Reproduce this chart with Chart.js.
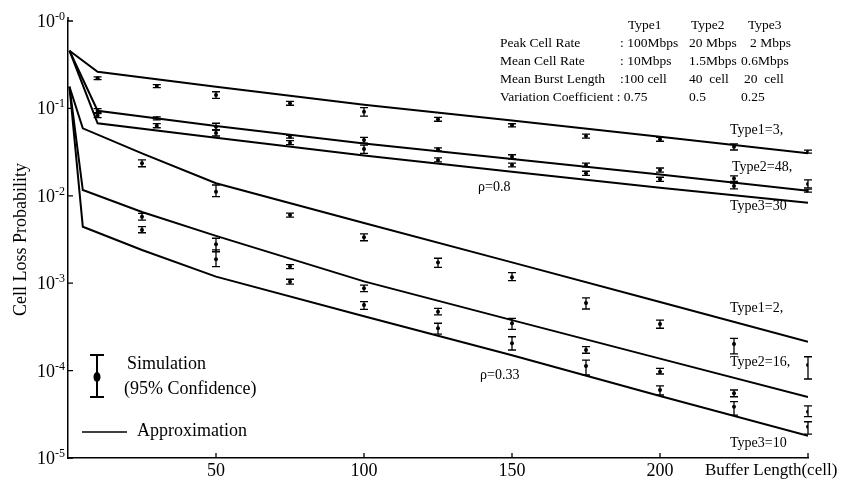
<!DOCTYPE html>
<html><head><meta charset="utf-8">
<script src="https://cdn.jsdelivr.net/npm/chart.js@4"></script>
<style>html,body{margin:0;padding:0;background:#fff;}</style>
</head><body>
<canvas id="c" width="843" height="484"></canvas>
<script>
// ---------------- DATA ----------------
const xTickValues = [50, 100, 150, 200, 250];
const xTickLabels = ['50', '100', '150', '200', ''];
const yTickValues = [1e-5, 1e-4, 1e-3, 1e-2, 1e-1, 1];
const yTickExponents = ['-5', '-4', '-3', '-2', '-1', '-0'];

// Approximation curves (rho = 0.8)
const approx08X = [0.5, 10, 50, 100, 150, 200, 250];
const approxT1_08 = [0.457, 0.263, 0.177, 0.110, 0.0728, 0.0475, 0.0306];
const approxT2_08 = [0.457, 0.094, 0.063, 0.0397, 0.0264, 0.0175, 0.0114];
const approxT3_08 = [0.457, 0.0675, 0.0461, 0.0289, 0.0188, 0.01236, 0.00834];

// Approximation curves (rho = 0.33)
const approx033X = [0.5, 5, 25, 50, 100, 150, 200, 250];
const approxT1_033 = [0.177, 0.0592, 0.0306, 0.0139, 0.00489, 0.00173, 0.00061, 0.000214];
const approxT2_033 = [0.177, 0.01165, 0.00652, 0.00348, 0.00105, 0.000378, 0.000137, 0.000050];
const approxT3_033 = [0.177, 0.00443, 0.0024, 0.00119, 0.000419, 0.000150, 0.0000513, 0.0000180];

// Simulation (95% confidence), rho = 0.8
const sim08X = [10, 30, 50, 75, 100, 125, 150, 175, 200, 225, 250];
const simT1_08 = [0.221, 0.180, 0.142, 0.1143, 0.0917, 0.0750, 0.0641, 0.0483, 0.0443, 0.0365, 0.0320];
const simT1_08Lo = [0.213, 0.173, 0.1305, 0.1086, 0.0818, 0.0713, 0.0615, 0.0458, 0.0421, 0.0334, 0.0307];
const simT1_08Hi = [0.230, 0.1875, 0.155, 0.1205, 0.1019, 0.0791, 0.0667, 0.0509, 0.0467, 0.0392, 0.0333];
const simT2_08 = [0.0942, 0.0771, 0.0618, 0.0474, 0.0435, 0.0340, 0.0280, 0.0225, 0.0197, 0.0158, 0.01365];
const simT2_08Lo = [0.0893, 0.0741, 0.0566, 0.0456, 0.0399, 0.0327, 0.0265, 0.0214, 0.0187, 0.0146, 0.0123];
const simT2_08Hi = [0.0993, 0.0802, 0.0676, 0.0493, 0.0467, 0.0354, 0.0295, 0.0237, 0.0208, 0.0169, 0.0152];
const simT3_08 = [0.0825, 0.0634, 0.0523, 0.0405, 0.0343, 0.0257, 0.0225, 0.0181, 0.01545, 0.01294, 0.01143];
const simT3_08Lo = [0.0783, 0.0601, 0.0483, 0.0385, 0.0306, 0.0244, 0.0214, 0.0171, 0.01466, 0.01197, 0.0110];
const simT3_08Hi = [0.0871, 0.0668, 0.0566, 0.0428, 0.0381, 0.0271, 0.0237, 0.0191, 0.0163, 0.0140, 0.0119];

// Simulation (95% confidence), rho = 0.33
const sim033X = [25, 50, 75, 100, 125, 150, 175, 200, 225, 250];
const simT1_033 = [0.0235, 0.01114, 0.00603, 0.00335, 0.00172, 0.00117, 0.000593, 0.000341, 0.000201, 0.000116];
const simT1_033Lo = [0.0215, 0.00977, 0.00571, 0.00306, 0.00152, 0.00107, 0.000507, 0.000305, 0.000155, 0.0000802];
const simT1_033Hi = [0.0257, 0.0133, 0.00635, 0.00366, 0.00193, 0.00132, 0.000678, 0.000379, 0.000234, 0.000144];
const simT2_033 = [0.00577, 0.00279, 0.00155, 0.000875, 0.000472, 0.000348, 0.000172, 0.0000971, 0.0000550, 0.0000339];
const simT2_033Lo = [0.00528, 0.00229, 0.00147, 0.000800, 0.000433, 0.000297, 0.000158, 0.0000914, 0.0000502, 0.0000297];
const simT2_033Hi = [0.00631, 0.00327, 0.00163, 0.000953, 0.000516, 0.000396, 0.000188, 0.000106, 0.0000600, 0.0000394];
const simT3_033 = [0.00406, 0.00188, 0.00104, 0.000563, 0.000305, 0.000205, 0.000113, 0.0000600, 0.0000386, 0.0000228];
const simT3_033Lo = [0.00378, 0.00155, 0.000975, 0.000502, 0.000262, 0.000172, 0.0000891, 0.0000526, 0.0000310, 0.0000188];
const simT3_033Hi = [0.00443, 0.00240, 0.00111, 0.000614, 0.000348, 0.000244, 0.000132, 0.0000667, 0.0000441, 0.0000260];

// Texts
const tableHeader = ['Type1', 'Type2', 'Type3'];
const tableRows = [
  ['Peak Cell Rate', ': 100Mbps', '20 Mbps', '2 Mbps'],
  ['Mean Cell Rate', ': 10Mbps', '1.5Mbps', '0.6Mbps'],
  ['Mean Burst Length', ':100 cell', '40  cell', '20  cell'],
  ['Variation Coefficient : 0.75', '', '0.5', '0.25']
];
const curveLabels = ['Type1=3,', 'Type2=48,', 'Type3=30', '\u03c1=0.8', 'Type1=2,', 'Type2=16,', 'Type3=10', '\u03c1=0.33'];
const legendTexts = ['Simulation', '(95% Confidence)', 'Approximation'];
const xAxisTitle = 'Buffer Length(cell)';
const yAxisTitle = 'Cell Loss Probability';

// ---------------- CHART ----------------
const FONT = '"Liberation Serif", "Times New Roman", serif';
const pts = (xs, ys) => xs.map((x, i) => ({x: x, y: ys[i]}));
const lineDs = (xs, ys) => ({type: 'line', data: pts(xs, ys), borderColor: '#000', borderWidth: 2, pointRadius: 0, tension: 0, fill: false});
const simDs = (xs, ys, lo, hi) => ({type: 'scatter', data: pts(xs, ys), lo: lo, hi: hi, xs: xs, showLine: false, pointRadius: 2, pointBackgroundColor: '#000', pointBorderColor: '#000', pointBorderWidth: 0});

const sims = [
  simDs(sim08X, simT1_08, simT1_08Lo, simT1_08Hi),
  simDs(sim08X, simT2_08, simT2_08Lo, simT2_08Hi),
  simDs(sim08X, simT3_08, simT3_08Lo, simT3_08Hi),
  simDs(sim033X, simT1_033, simT1_033Lo, simT1_033Hi),
  simDs(sim033X, simT2_033, simT2_033Lo, simT2_033Hi),
  simDs(sim033X, simT3_033, simT3_033Lo, simT3_033Hi)
];

const decor = {
  id: 'decor',
  beforeDraw(chart) {
    const c = chart.ctx;
    c.save(); c.fillStyle = '#fff'; c.fillRect(0, 0, chart.width, chart.height); c.restore();
  },
  afterDatasetsDraw(chart) {
    const c = chart.ctx, xs = chart.scales.x, ys = chart.scales.y;
    c.save();
    c.strokeStyle = '#000'; c.lineWidth = 1.3;
    chart.data.datasets.forEach(ds => {
      if (!ds.lo) return;
      ds.xs.forEach((xv, i) => {
        const px = xs.getPixelForValue(xv);
        const pl = ys.getPixelForValue(ds.lo[i]);
        const ph = ys.getPixelForValue(ds.hi[i]);
        c.beginPath();
        c.moveTo(px, pl); c.lineTo(px, ph);
        c.moveTo(px - 4, pl); c.lineTo(px + 4, pl);
        c.moveTo(px - 4, ph); c.lineTo(px + 4, ph);
        c.stroke();
      });
    });
    c.restore();
  },
  afterDraw(chart) {
    const c = chart.ctx, xs = chart.scales.x, ys = chart.scales.y, a = chart.chartArea;
    c.save();
    c.fillStyle = '#000'; c.strokeStyle = '#000';
    // axis line extends slightly above the top decade
    c.lineWidth = 1.5;
    c.beginPath(); c.moveTo(a.left, a.top); c.lineTo(a.left, a.top - 4); c.stroke();
    // inward tick marks
    c.lineWidth = 1.3;
    c.beginPath();
    yTickValues.forEach(v => { const py = ys.getPixelForValue(v); c.moveTo(a.left, py); c.lineTo(a.left + 5, py); });
    xTickValues.forEach(v => { const px = xs.getPixelForValue(v); c.moveTo(px, a.bottom); c.lineTo(px, a.bottom - 5); });
    c.stroke();
    // y tick labels with superscript exponents
    c.textBaseline = 'alphabetic';
    yTickValues.forEach((v, i) => {
      const py = ys.getPixelForValue(v);
      c.font = '12px ' + FONT;
      c.textAlign = 'right';
      const ew = c.measureText(yTickExponents[i]).width;
      c.fillText(yTickExponents[i], 65, py - 1);
      c.font = '18px ' + FONT;
      c.fillText('10', 65 - ew, py + 6);
    });
    // x axis title
    c.font = '17px ' + FONT; c.textAlign = 'left'; c.textBaseline = 'middle';
    c.fillText(xAxisTitle, 705, 471);
    // table
    c.font = '13.5px ' + FONT;
    const colX = [500, 620, 689, 741];
    const rowY = [25, 43, 61, 79, 97];
    const headX = [628, 691, 748];
    tableHeader.forEach((t, i) => c.fillText(t, headX[i], rowY[0]));
    tableRows.forEach((r, ri) => r.forEach((t, ci) => {
      if (!t) return;
      let x = colX[ci];
      if (ri === 0 && ci === 3) x += 9;
      if (ri === 2 && ci === 3) x += 3;
      c.fillText(t, x, rowY[ri + 1]);
    }));
    // curve labels
    c.font = '14px ' + FONT;
    const lp = [[730, 130], [732, 167], [730, 206], [478, 187], [730, 308], [730, 362], [730, 443], [480, 375]];
    curveLabels.forEach((t, i) => c.fillText(t, lp[i][0], lp[i][1]));
    // legend
    c.lineWidth = 2;
    c.beginPath();
    c.moveTo(97, 355); c.lineTo(97, 397);
    c.moveTo(90, 355); c.lineTo(104, 355);
    c.moveTo(90, 397); c.lineTo(104, 397);
    c.stroke();
    c.beginPath(); c.ellipse(97, 377, 3.5, 5, 0, 0, Math.PI * 2); c.fill();
    c.lineWidth = 1.5;
    c.beginPath(); c.moveTo(82, 432); c.lineTo(127, 432); c.stroke();
    c.font = '18px ' + FONT;
    c.fillText(legendTexts[0], 127, 364);
    c.fillText(legendTexts[1], 124, 389);
    c.fillText(legendTexts[2], 137, 431);
    c.restore();
  }
};

new Chart(document.getElementById('c'), {
  type: 'line',
  data: {datasets: [
    lineDs(approx08X, approxT1_08), lineDs(approx08X, approxT2_08), lineDs(approx08X, approxT3_08),
    lineDs(approx033X, approxT1_033), lineDs(approx033X, approxT2_033), lineDs(approx033X, approxT3_033),
    ...sims
  ]},
  options: {
    responsive: false, animation: false, events: [],
    layout: {padding: {top: 21, right: 35, left: 0, bottom: 0}},
    plugins: {legend: {display: false}, tooltip: {enabled: false}},
    scales: {
      x: {
        type: 'linear', min: 0, max: 250,
        afterBuildTicks: s => { s.ticks = xTickValues.map(v => ({value: v})); },
        ticks: {callback: (v, i) => xTickLabels[i], font: {family: FONT, size: 18}, color: '#000', padding: 2, maxRotation: 0, autoSkip: false},
        grid: {display: true, drawOnChartArea: false, drawTicks: false},
        border: {display: true, color: '#000', width: 1.5},
        afterFit: s => { s.height = 26; }
      },
      y: {
        type: 'logarithmic', min: 1e-5, max: 1,
        afterBuildTicks: s => { s.ticks = yTickValues.map(v => ({value: v})); },
        ticks: {display: false},
        grid: {display: true, drawOnChartArea: false, drawTicks: false},
        border: {display: true, color: '#000', width: 1.5},
        title: {display: true, text: yAxisTitle, font: {family: FONT, size: 18}, color: '#000', padding: {top: 10, bottom: 0}},
        afterFit: s => { s.width = 68; }
      }
    }
  },
  plugins: [decor]
});
</script>
</body></html>
